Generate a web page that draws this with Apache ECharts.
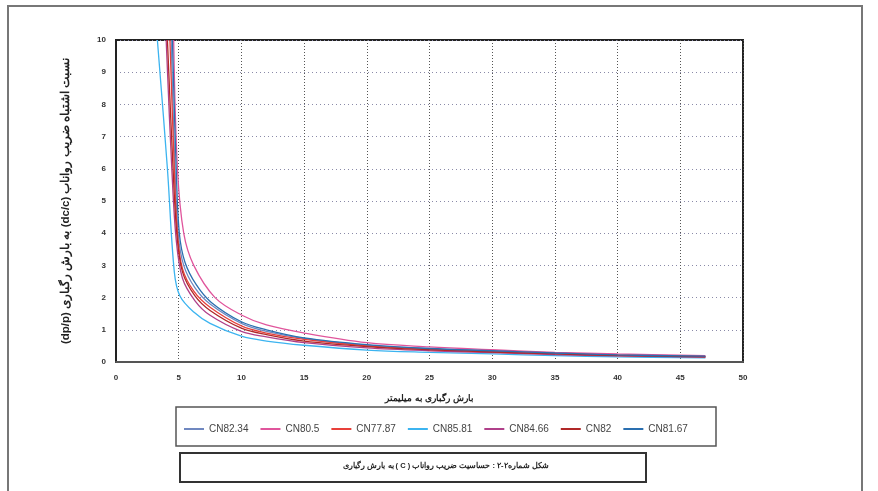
<!DOCTYPE html>
<html>
<head>
<meta charset="utf-8">
<script src="https://cdn.jsdelivr.net/npm/echarts@6/dist/echarts.min.js"></script>
<style>
  html, body { margin: 0; padding: 0; background: #fff; }
  #chart { width: 878px; height: 491px; }
</style>
</head>
<body>
<div id="chart" dir="rtl"></div>
<script>
// بارش رگباری (mm) -> dc/c : dp/p
const xTicks = [0, 5, 10, 15, 20, 25, 30, 35, 40, 45, 50]
const yTicks = [0, 1, 2, 3, 4, 5, 6, 7, 8, 9, 10]

const names = ['CN82.34', 'CN80.5', 'CN77.87', 'CN85.81', 'CN84.66', 'CN82', 'CN81.67']
const colors = ['#7088c0', '#e0559c', '#e8403a', '#3cb4f0', '#b0408a', '#b02828', '#2a6fb0']

const cn8234 = [[4.4, 10], [4.7, 6], [4.95, 4], [5.4, 3], [6.3, 2.3], [7.5, 1.8], [10, 1.2], [12, 0.95], [15, 0.73], [20, 0.52], [25, 0.41], [30, 0.34], [35, 0.27], [40, 0.22], [47, 0.17]]
const cn805 = [[4.6, 10], [4.9, 6], [5.4, 4], [6.2, 3], [7.9, 2], [10, 1.46], [12, 1.15], [15, 0.9], [20, 0.6], [25, 0.47], [30, 0.38], [35, 0.3], [40, 0.25], [47, 0.2]]
const cn7787 = [[4.3, 10], [4.65, 6], [4.9, 4], [5.3, 2.9], [6.2, 2.2], [7.5, 1.7], [10, 1.12], [12, 0.9], [15, 0.7], [20, 0.5], [25, 0.4], [30, 0.33], [35, 0.26], [40, 0.21], [47, 0.17]]
const cn8581 = [[3.3, 10], [4.1, 6], [4.65, 2.8], [5.1, 2.05], [6.2, 1.55], [7.5, 1.2], [10, 0.8], [12, 0.65], [15, 0.52], [20, 0.37], [25, 0.3], [30, 0.25], [35, 0.2], [40, 0.16], [47, 0.13]]
const cn8466 = [[4.0, 10], [4.45, 6], [4.8, 3.8], [5.3, 2.6], [6.3, 1.9], [7.5, 1.45], [10, 0.95], [12, 0.78], [15, 0.6], [20, 0.44], [25, 0.35], [30, 0.29], [35, 0.23], [40, 0.19], [47, 0.15]]
const cn82 = [[4.1, 10], [4.55, 6], [4.85, 4], [5.3, 2.8], [6.3, 2.05], [7.5, 1.6], [10, 1.05], [12, 0.85], [15, 0.65], [20, 0.48], [25, 0.38], [30, 0.31], [35, 0.25], [40, 0.2], [47, 0.16]]
const cn8167 = [[4.5, 10], [4.8, 6], [5.05, 4], [5.5, 3.1], [6.4, 2.4], [7.6, 1.85], [10, 1.25], [12, 1.0], [15, 0.75], [20, 0.54], [25, 0.42], [30, 0.35], [35, 0.28], [40, 0.22], [47, 0.18]]

const seriesData = [cn8234, cn805, cn7787, cn8581, cn8466, cn82, cn8167]

const chart = echarts.init(document.getElementById('chart'))

const option = {
  backgroundColor: '#fff',
  animation: false,
  textStyle: { fontFamily: 'Liberation Sans, Arial, sans-serif' },
  grid: {
    left: 116, right: 135, top: 40, bottom: 129,
    show: true,
    borderColor: '#222',
    borderWidth: 2
  },
  xAxis: {
    type: 'value',
    min: xTicks[0], max: xTicks[xTicks.length - 1], interval: 5,
    name: 'بارش رگباری به میلیمتر',
    nameLocation: 'middle',
    nameGap: 32,
    nameTextStyle: { fontSize: 9, color: '#222', fontWeight: 'bold' },
    axisLine: { lineStyle: { color: '#555', width: 2 } },
    axisTick: { show: false },
    axisLabel: { fontSize: 8, color: '#333', fontWeight: 'bold', margin: 12 },
    splitLine: { show: true, lineStyle: { color: '#555', type: [1, 2], width: 1 } }
  },
  yAxis: {
    type: 'value',
    min: yTicks[0], max: yTicks[yTicks.length - 1], interval: 1,
    name: 'نسبت اشتباه ضریب رواناب (dc/c) به بارش رگباری (dp/p)',
    nameLocation: 'middle',
    nameRotate: 90,
    nameGap: 44,
    nameTextStyle: { fontSize: 11.5, color: '#222', fontWeight: 'bold' },
    axisLine: { show: true, lineStyle: { color: '#222', width: 2 } },
    axisTick: { show: false },
    axisLabel: { fontSize: 8, color: '#333', fontWeight: 'bold', margin: 10 },
    splitLine: { show: true, lineStyle: { color: '#8a8aa8', type: [1, 3], width: 1 } }
  },
  legend: {
    data: names,
    left: 179,
    top: 419,
    itemWidth: 20,
    itemHeight: 2,
    itemGap: 12,
    icon: 'rect',
    textStyle: { fontSize: 10, color: '#444' }
  },
  graphic: [
    {
      type: 'rect',
      shape: { x: 8, y: 6, width: 854, height: 495 },
      style: { fill: null, stroke: '#777', lineWidth: 2 },
      silent: true
    },
    {
      type: 'rect',
      shape: { x: 176, y: 407, width: 540, height: 39 },
      style: { fill: null, stroke: '#555', lineWidth: 1.5 },
      silent: true
    },
    {
      type: 'rect',
      shape: { x: 180, y: 453, width: 466, height: 29 },
      style: { fill: null, stroke: '#333', lineWidth: 2 },
      silent: true
    },
    {
      type: 'text',
      x: 446,
      y: 462,
      style: {
        text: 'شکل شماره۲-۲ : حساسیت ضریب رواناب ( C ) به بارش رگباری',
        font: 'bold 7.5px Liberation Sans, Arial, sans-serif',
        fill: '#222',
        align: 'center'
      },
      silent: true
    }
  ],
  series: names.map((n, i) => ({
    name: n,
    type: 'line',
    data: seriesData[i],
    showSymbol: false,
    smooth: 0.35,
    clip: true,
    lineStyle: { width: 1.3, color: colors[i] },
    itemStyle: { color: colors[i] }
  }))
}

chart.setOption(option)
</script>
</body>
</html>
